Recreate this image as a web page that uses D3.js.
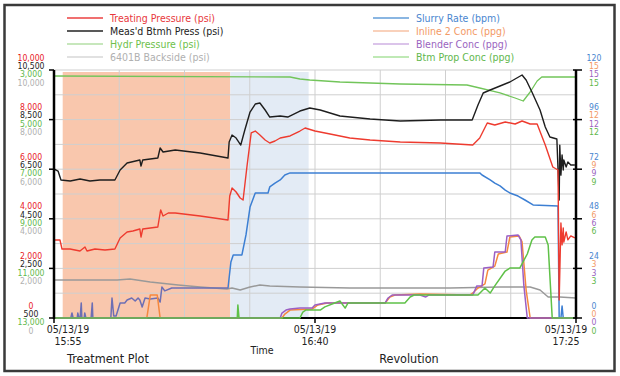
<!DOCTYPE html>
<html>
<head>
<meta charset="utf-8">
<script src="https://cdn.jsdelivr.net/npm/d3@7"></script>
<style>
body { margin: 0; background: #fff; }
text { font-family: "Liberation Sans Narrow", "DejaVu Sans Condensed", "Liberation Sans", sans-serif; }
</style>
</head>
<body>
<script>
// series: [minutes after 15:55, value]
const treatingPsi = [[0,3145],[1.03,3145],[1.38,2782],[2.76,2782],[4.48,2702],[5.34,2863],[5.69,2702],[7.07,2782],[8.79,2742],[10.5,2782],
  [11.4,3226],[12.6,3468],[13.6,3508],[14.8,3589],[15.0,3266],[15.3,3589],[16.6,3629],[17.9,3669],[18.3,4234],[18.4,4355],[18.8,4113],
  [19.7,4234],[20.9,4234],[25.2,4113],[30.0,3952],[30.3,4919],[30.7,5242],[31.4,5080],[32.1,4839],[32.6,4758],[33.3,6169],[34.0,7460],
  [34.7,7540],[35.5,7379],[36.4,7177],[37.2,7056],[38.1,7137],[39.0,7258],[40.7,7339],[42.4,7540],[43.3,7661],[45.0,7540],[47.6,7419],
  [51.0,7258],[54.5,7177],[59.7,7097],[66.6,7056],[72.2,6976],[73.4,7258],[74.7,7863],[76.0,7782],[77.8,7903],[79.5,7822],[80.7,7943],
  [82.1,7822],[83.3,7822],[84.7,6976],[86.0,6089],[86.9,5968],[87.1,726],[87.4,3831],[87.6,2950],[87.8,3630],[87.9,3060],[88.3,3470],
  [88.6,3150],[89.1,3310],[89.8,3226]];
const btmhPsi = [[0,6508],[0.7,6427],[1.2,6064],[2.8,6024],[4.5,6104],[6.2,6024],[7.9,6064],[10.5,6064],[11.4,6467],[12.6,6750],
  [14.8,6871],[15.0,6629],[15.3,6871],[17.9,6951],[18.3,7354],[18.8,7193],[20.9,7274],[25.2,7153],[30.0,6951],[30.2,7596],[30.7,7878],
  [31.4,7757],[32.2,7475],[32.9,8080],[33.8,8806],[34.7,9128],[35.5,9169],[36.4,8887],[37.2,8604],[39.0,8645],[40.3,8604],[42.4,8846],
  [44.1,8967],[45.9,8887],[49.3,8645],[54.5,8524],[59.7,8443],[66.6,8483],[72.1,8483],[73.1,9088],[74.0,9572],[75.2,9693],[76.9,9854],
  [78.6,10016],[79.5,10137],[80.7,10298],[81.4,10097],[82.4,9612],[83.8,8887],[84.7,8201],[85.5,7798],[86.7,7717],[87.1,5258],
  [87.2,7470],[87.4,6260],[87.6,7070],[87.8,6470],[87.9,6870],[88.3,6590],[88.6,6790],[89.1,6670],[89.8,6670]];
const hydrPsi = [[0,3242],[40.7,3282],[42.4,3363],[44.1,3403],[49.3,3484],[54.5,3524],[59.7,3564],[71.2,3605],[73.4,3726],
  [76.9,3927],[79.5,4129],[80.9,4250],[82.1,3887],[83.3,3444],[84.1,3282],[90,3282]];
const backsidePsi = [[0,1532],[10.9,1532],[13.1,1572],[16.6,1452],[21.4,1331],[25.2,1250],[29.8,1169],[30.7,1210],[32.1,1129],
  [33.8,1250],[35.5,1331],[37.2,1290],[42.4,1250],[51.0,1210],[59.7,1210],[68.3,1210],[76.9,1250],[82.1,1250],[83.8,1129],
  [85.2,847],[87.2,847],[90,806]];
const slurryBpm = [[0,0],[2.9,0],[3.1,2.4],[3.3,0],[4.0,0],[4.1,2.4],[4.3,0],[4.5,0],[4.7,7.3],[4.8,0],[5.2,0],[5.3,2.4],[5.5,0],
  [6.4,0],[6.6,7.3],[6.7,0],[9.8,0],[10.0,9.7],[10.3,1.0],[10.7,1.0],[11.4,7.3],[12.2,7.3],[12.6,8.7],[13.4,9.7],[14.0,8.2],
  [14.5,9.7],[14.8,8.7],[15.2,5.3],[15.7,9.7],[16.6,9.2],[17.9,9.7],[18.3,7.7],[18.6,15.0],[19.1,13.1],[20.3,14.5],[25.2,14.5],
  [29.8,14.5],[30.0,14.5],[30.5,27.1],[30.9,30.5],[32.4,30.5],[33.1,40.2],[33.8,53.7],[34.7,60.5],[36.9,60.5],[37.2,63.4],
  [38.1,65.3],[39.0,66.8],[39.8,69.2],[40.7,70.2],[59.7,70.2],[73.4,70.2],[73.8,69.2],[75.2,66.8],[76.0,65.3],[76.9,63.9],
  [77.8,61.9],[78.6,60.5],[80.0,59.0],[81.2,57.1],[82.6,54.7],[86.9,54.2],[87.1,0],[87.4,0],[87.6,5.8],[87.8,0],[90,0]];
const inlineConc = [[0,0],[16.0,0],[16.6,1.39],[17.8,1.39],[18.3,0],[39.3,0],[39.8,0.24],[40.7,0.48],[44.5,0.54],[45.5,0.79],
  [47.1,0.91],[57.1,0.91],[57.9,1.27],[58.8,1.39],[63.1,1.45],[71.7,1.39],[72.4,1.57],[73.1,1.81],[74.3,2.06],[74.8,2.90],
  [76.0,3.14],[76.6,3.87],[78.1,3.99],[78.6,4.90],[80.2,4.96],[80.7,4.60],[81.4,1.69],[82.1,0],[90,0]];
const blenderConc = [[0,0],[39.0,0],[39.3,0.30],[40.0,0.48],[40.7,0.54],[42.4,0.60],[44.5,0.60],[45.0,0.79],[46.7,0.91],
  [57.1,0.91],[57.6,1.21],[58.3,1.39],[63.1,1.39],[64.1,1.27],[64.6,1.39],[72.2,1.39],[72.9,1.94],[73.8,1.94],[74.1,3.02],
  [75.7,3.08],[76.0,3.99],[77.8,3.99],[78.1,4.96],[80.0,5.02],[80.5,4.72],[81.0,2.0],[81.6,0],[90,0]];
const btmPropConc = [[0,0],[31.6,0],[31.7,0.79],[31.9,0],[42.4,0],[42.9,0.36],[43.4,0.48],[45.9,0.48],[46.7,0.67],[48.4,0.91],
  [49.3,1.03],[50.2,0.60],[50.7,0.91],[60.5,0.91],[61.4,1.27],[62.1,1.39],[73.1,1.39],[74.3,1.81],[75.2,1.51],[76.0,1.94],
  [77.8,2.84],[78.6,3.02],[80.3,3.02],[81.6,3.87],[82.4,4.72],[82.9,4.90],[84.7,4.90],[85.2,4.42],[85.9,0],[90,0]];

// shaded stages [start min, end min]
const stages = [[1.5, 30.4], [30.4, 43.9]];

// tick labels
const treatTicks = [10000, 8000, 6000, 4000, 2000, 0];
const btmhTicks = [10500, 8500, 6500, 4500, 2500, 500];
const hydrTicks = [3000, 5000, 7000, 9000, 11000, 13000];
const backTicks = [10000, 8000, 6000, 4000, 2000, 0];
const rateTicks = [120, 96, 72, 48, 24, 0];
const concTicks = [15, 12, 9, 6, 3, 0];
const timeTicks = [0, 45, 90];

const width = 620, height = 376;
const svg = d3.select("body").append("svg").attr("width", width).attr("height", height);

const plotL = 54, plotR = 576, plotT = 70, plotB = 318;
const t0 = new Date(2019, 4, 13, 15, 55);
const toDate = m => new Date(t0.getTime() + m * 60000);

const x = d3.scaleTime().domain([toDate(0), toDate(90)]).range([plotL, plotR]);
const yTreat = d3.scaleLinear().domain([0, 10000]).range([plotB, plotT]);
const yBtmh = d3.scaleLinear().domain([500, 10500]).range([plotB, plotT]);
const yHydr = d3.scaleLinear().domain([13000, 3000]).range([plotB, plotT]);
const yBack = d3.scaleLinear().domain([0, 10000]).range([plotB, plotT]);
const yRate = d3.scaleLinear().domain([0, 120]).range([plotB, plotT]);
const yConc = d3.scaleLinear().domain([0, 15]).range([plotB, plotT]);

// outer frame
svg.append("rect").attr("x", 4.5).attr("y", 5).attr("width", 610).attr("height", 366)
  .attr("fill", "none").attr("stroke", "#3a3a3a").attr("stroke-width", 2.5);

// stage shading
const stageColors = ["#f9c7ad", "#e3ebf5"];
svg.selectAll("rect.stage").data(stages).enter().append("rect")
  .attr("class", "stage")
  .attr("x", d => x(toDate(d[0]))).attr("y", plotT + 2)
  .attr("width", d => x(toDate(d[1])) - x(toDate(d[0])))
  .attr("height", plotB - plotT - 2)
  .attr("fill", (d, i) => stageColors[i]);

// grid
const grid = svg.append("g");
grid.selectAll("line.h").data(d3.range(0, 10001, 1000)).enter().append("line")
  .attr("x1", plotL).attr("x2", plotR).attr("y1", d => yTreat(d)).attr("y2", d => yTreat(d))
  .attr("stroke", "#cfcfcf").attr("stroke-width", 1);
grid.selectAll("line.v").data(d3.range(0, 91, 11.25)).enter().append("line")
  .attr("x1", d => x(toDate(d))).attr("x2", d => x(toDate(d))).attr("y1", plotT).attr("y2", plotB)
  .attr("stroke", "#cfcfcf").attr("stroke-width", 1);

// bottom axis line goes under the data lines
svg.append("line").attr("x1", plotL).attr("x2", plotR).attr("y1", plotB).attr("y2", plotB)
  .attr("stroke", "#000").attr("stroke-width", 2);

// slurry line changes colour where it overlaps blender conc in the treatment stage
const grad = svg.append("defs").append("linearGradient").attr("id", "slurryGrad")
  .attr("gradientUnits", "userSpaceOnUse").attr("x1", plotL).attr("x2", plotR).attr("y1", 0).attr("y2", 0);
const cut = (x(toDate(30.0)) - plotL) / (plotR - plotL);
grad.append("stop").attr("offset", 0).attr("stop-color", "#6d6fb4");
grad.append("stop").attr("offset", cut).attr("stop-color", "#6d6fb4");
grad.append("stop").attr("offset", cut).attr("stop-color", "#3c7fd3");
grad.append("stop").attr("offset", 1).attr("stop-color", "#3c7fd3");

function drawLine(data, yS, color, w) {
  const line = d3.line().x(d => x(toDate(d[0]))).y(d => yS(d[1]));
  svg.append("path").datum(data).attr("d", line)
    .attr("fill", "none").attr("stroke", color).attr("stroke-width", w)
    .attr("stroke-linejoin", "round");
}

drawLine(backsidePsi, yBack, "#999999", 1.5);
drawLine(hydrPsi, yHydr, "#72c55a", 1.3);
drawLine(slurryBpm, yRate, "url(#slurryGrad)", 1.5);
drawLine(btmhPsi, yBtmh, "#1e1e1e", 1.4);
drawLine(treatingPsi, yTreat, "#ee3b2f", 1.4);
drawLine(inlineConc, yConc, "#f5883e", 1.5);
drawLine(blenderConc, yConc, "#9b5fc4", 1.5);
drawLine(btmPropConc, yConc, "#5fc148", 1.5);

// side axes
svg.append("line").attr("x1", plotL).attr("x2", plotL).attr("y1", plotT).attr("y2", plotB + 1)
  .attr("stroke", "#000").attr("stroke-width", 2.5);
svg.append("line").attr("x1", plotR).attr("x2", plotR).attr("y1", plotT).attr("y2", plotB + 1)
  .attr("stroke", "#000").attr("stroke-width", 2.5);

// y ticks
svg.selectAll("line.lt").data(treatTicks).enter().append("line")
  .attr("x1", plotL - 5).attr("x2", plotL).attr("y1", d => yTreat(d)).attr("y2", d => yTreat(d))
  .attr("stroke", "#000").attr("stroke-width", 1.5);
svg.selectAll("line.rt").data(rateTicks).enter().append("line")
  .attr("x1", plotR - 3).attr("x2", plotR + 6).attr("y1", d => yRate(d)).attr("y2", d => yRate(d))
  .attr("stroke", "#000").attr("stroke-width", 1.5);

const fmt = d3.format(",");
const offs = [-12.5, -4.2, 4.2, 12.5];
function tickLabels(ticks, yS, color, k, xPos) {
  svg.append("g").selectAll("text").data(ticks).enter().append("text")
    .attr("x", xPos).attr("y", d => yS(d) + offs[k])
    .attr("text-anchor", "middle").attr("dominant-baseline", "central")
    .attr("font-size", "8.6px").attr("fill", color)
    .text(d => fmt(d));
}
tickLabels(treatTicks, yTreat, "#e8191e", 0, 31);
tickLabels(btmhTicks, yBtmh, "#222222", 1, 31);
tickLabels(hydrTicks, yHydr, "#5fb84c", 2, 31);
tickLabels(backTicks, yBack, "#b0b0b0", 3, 31);
tickLabels(rateTicks, yRate, "#4a86cf", 0, 594);
tickLabels(concTicks, yConc, "#f39a66", 1, 594);
tickLabels(concTicks, yConc, "#9a64c0", 2, 594);
tickLabels(concTicks, yConc, "#5fb84c", 3, 594);

// x axis
const xAxis = svg.append("g");
const shift = [14, 0, -10];
timeTicks.forEach((m, i) => {
  const xp = x(toDate(m));
  xAxis.append("line").attr("x1", xp).attr("x2", xp).attr("y1", plotB).attr("y2", plotB + 5)
    .attr("stroke", "#000").attr("stroke-width", 1.5);
  const t = xAxis.append("text").attr("x", xp + shift[i]).attr("text-anchor", "middle")
    .attr("font-size", "10.5px").attr("fill", "#222");
  t.append("tspan").attr("x", xp + shift[i]).attr("y", 333).text(d3.timeFormat("%m/%d/%y")(toDate(m)));
  t.append("tspan").attr("x", xp + shift[i]).attr("y", 345).text(d3.timeFormat("%H:%M")(toDate(m)));
});
svg.append("text").attr("x", 262).attr("y", 354).attr("text-anchor", "middle")
  .attr("font-size", "10.5px").attr("fill", "#222").text("Time");
svg.append("text").attr("x", 108).attr("y", 363).attr("text-anchor", "middle")
  .attr("font-size", "12.5px").attr("fill", "#222").text("Treatment Plot");
svg.append("text").attr("x", 409).attr("y", 363).attr("text-anchor", "middle")
  .attr("font-size", "12.5px").attr("fill", "#222").text("Revolution");

// legend
const legendLeft = [
  {name: "Treating Pressure (psi)", line: "#f07070", text: "#e8383d", w: 2},
  {name: "Meas'd Btmh Press (psi)", line: "#222222", text: "#222222", w: 1.5},
  {name: "Hydr Pressure (psi)", line: "#8fd07a", text: "#6dbf4b", w: 1.2},
  {name: "6401B Backside (psi)", line: "#c4c4c4", text: "#b0b0b0", w: 1.2}
];
const legendRight = [
  {name: "Slurry Rate (bpm)", line: "#8ab6e2", text: "#4a86cf", w: 2},
  {name: "Inline 2 Conc (ppg)", line: "#f4a478", text: "#f39a66", w: 1.2},
  {name: "Blender Conc (ppg)", line: "#b88ad6", text: "#9a64c0", w: 1.2},
  {name: "Btm Prop Conc (ppg)", line: "#80d46c", text: "#62b84e", w: 1.2}
];
function drawLegend(items, x0) {
  const g = svg.append("g");
  items.forEach((d, i) => {
    const yy = 18 + i * 13;
    g.append("line").attr("x1", x0).attr("x2", x0 + 36).attr("y1", yy).attr("y2", yy)
      .attr("stroke", d.line).attr("stroke-width", d.w);
    g.append("text").attr("x", x0 + 43).attr("y", yy).attr("dominant-baseline", "central")
      .attr("font-size", "10.5px").attr("fill", d.text).text(d.name);
  });
}
drawLegend(legendLeft, 67);
drawLegend(legendRight, 373);
</script>
</body>
</html>
